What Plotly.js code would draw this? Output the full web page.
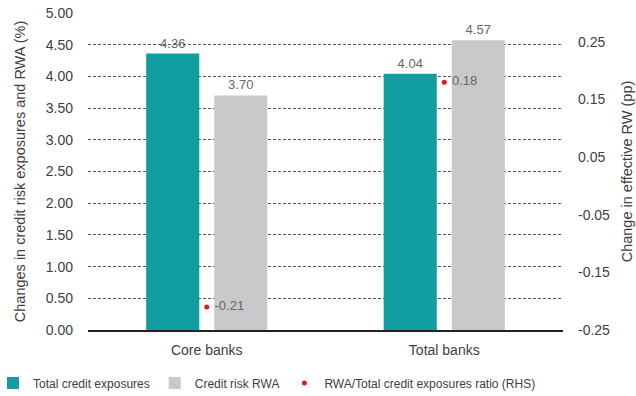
<!DOCTYPE html>
<html>
<head>
<meta charset="utf-8">
<script src="https://cdn.plot.ly/plotly-3.0.1.min.js"></script>
<style>html,body{margin:0;padding:0;background:#fff;}#chart{width:636px;height:396px;}</style>
</head>
<body>
<div id="chart"></div>
<script>
const categories = ["Core banks", "Total banks"];
const totalCreditExposures = [4.36, 4.04];
const creditRiskRWA = [3.70, 4.57];
const rwaRatioRHS = [-0.21, 0.18];
const leftTicks = [0, 0.5, 1, 1.5, 2, 2.5, 3, 3.5, 4, 4.5, 5];
const rightTicks = [-0.25, -0.15, -0.05, 0.05, 0.15, 0.25];

const font = "Liberation Sans, Arial, sans-serif";
const txt = "#404040";
const lbl = "#666666";

const traces = [
  {
    type: "bar", name: "Total credit exposures", x: categories, y: totalCreditExposures,
    marker: {color: "#129DA1", line: {width: 0}},
    text: totalCreditExposures.map(v => v.toFixed(2)), textposition: "outside",
    textfont: {family: font, size: 13, color: lbl}, cliponaxis: false, hoverinfo: "none"
  },
  {
    type: "bar", name: "Credit risk RWA", x: categories, y: creditRiskRWA,
    marker: {color: "#C8C9CA", line: {width: 0}},
    text: creditRiskRWA.map(v => v.toFixed(2)), textposition: "outside",
    textfont: {family: font, size: 13, color: lbl}, cliponaxis: false, hoverinfo: "none"
  },
  {
    type: "scatter", mode: "markers+text", name: "RWA/Total credit exposures ratio (RHS)",
    x: categories, y: rwaRatioRHS, yaxis: "y2",
    marker: {color: "#E8161B", size: 5},
    text: rwaRatioRHS.map(v => " " + v.toFixed(2)), textposition: "middle right",
    textfont: {family: font, size: 13, color: lbl}, cliponaxis: false, hoverinfo: "none"
  }
];

const layout = {
  width: 636, height: 396,
  margin: {l: 88, r: 73, t: 13, b: 66, autoexpand: false},
  paper_bgcolor: "#fff", plot_bgcolor: "#fff",
  font: {family: font, size: 14, color: txt},
  barmode: "group", bargap: 0.427, bargroupgap: 0.22,
  showlegend: true,
  legend: {
    orientation: "h", x: -0.2, xanchor: "left", y: -0.167, yanchor: "middle",
    font: {family: font, size: 12, color: txt}, itemwidth: 30, traceorder: "normal",
    itemclick: false, itemdoubleclick: false
  },
  xaxis: {
    type: "category", showgrid: false, zeroline: false, automargin: false,
    showline: true, linecolor: "#222222", linewidth: 2,
    ticks: "", tickfont: {family: font, size: 14, color: txt}, ticklabelstandoff: 6
  },
  yaxis: {
    range: [0, 5], tickvals: leftTicks, tickformat: ".2f", automargin: false,
    showgrid: true, gridcolor: "#555555", gridwidth: 1, griddash: "3px,2px",
    zeroline: false, showline: false, ticks: "",
    tickfont: {family: font, size: 14, color: txt}, ticklabelstandoff: 14,
    title: {text: "Changes in credit risk exposures and RWA (%)", font: {family: font, size: 14.5, color: txt}, standoff: 16}
  },
  yaxis2: {
    range: [-0.25, 0.30], tickvals: rightTicks, ticktext: rightTicks.map(v => v.toFixed(2)), automargin: false,
    overlaying: "y", side: "right", showgrid: false, zeroline: false, showline: false, ticks: "",
    tickfont: {family: font, size: 14, color: txt}, ticklabelstandoff: 14,
    title: {text: "Change in effective RW (pp)", font: {family: font, size: 14.5, color: txt}, standoff: 12}
  }
};

Plotly.newPlot("chart", traces, layout, {displayModeBar: false, staticPlot: true});
</script>
</body>
</html>
